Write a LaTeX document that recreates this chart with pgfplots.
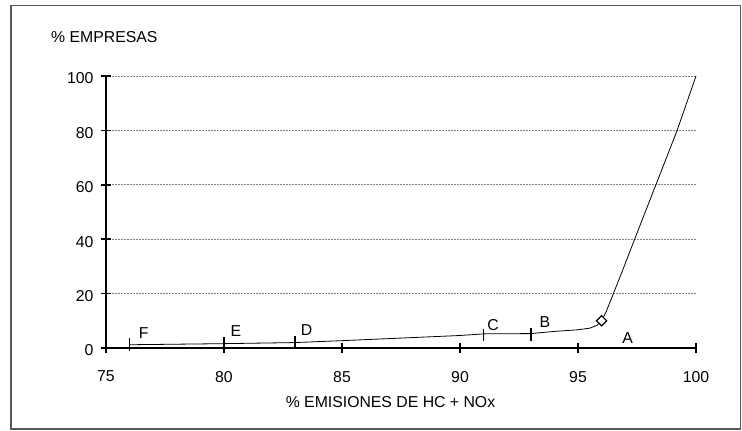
\documentclass[border=0pt]{standalone}
\usepackage{fontspec}
\setmainfont{Liberation Sans}
\usepackage{pgfplots}
\pgfplotsset{compat=1.18}
\begin{document}
\fontsize{15.8bp}{18bp}\selectfont
\begin{tikzpicture}[x=1bp,y=1bp]
\path[use as bounding box] (-106,-82) rectangle (636,348);
\draw[line width=1.5bp, black!65] (-95,-81) rectangle (634.5,342.5);
\begin{axis}[
  at={(0,0)}, anchor=south west,
  scale only axis, width=590bp, height=272bp,
  xmin=75, xmax=100, ymin=0, ymax=100,
  axis lines*=left,
  axis line style={line width=1.6bp, black},
  xtick={75,80,...,100}, ytick={0,20,...,100},
  tick align=center, major tick length=10bp,
  tick style={line width=1.6bp, black},
  ymajorgrids,
  grid style={dash pattern=on 2bp off 1bp, gray, line width=0.7bp},
  /pgf/number format/assume math mode=true,
  ticklabel style={font=\fontsize{15.8bp}{18bp}\selectfont},
  yticklabel style={xshift=-2bp, yshift=-2.5bp},
  xticklabel style={yshift=-12.5bp},
  clip=false,
]
\addplot[black, line width=0.8bp, mark=none] coordinates {
(76,1.2) (80,1.6) (83,2.0) (85,2.7) (90,4.6) (91,5.2) (93,5.3) (94,6.1) (95,6.7) (95.5,7.3) (95.8,8.3) (96,10) (96.2,13.5) (96.5,20) (97,31) (97.4,40) (98.3,60) (99.2,80) (100,100)
};
\addplot[draw=none, mark=none, error bars/.cd, y dir=both, y explicit, error mark=none,
  error bar style={line width=1.6bp, black}] coordinates {
(76,1.3) +- (0,2.4)
(80,1.6) +- (0,2.4)
(83,2.0) +- (0,2.4)
(91,4.8) +- (0,2.3)
(93,5.0) +- (0,2.4)
};
\addplot[only marks, mark=square*, mark size=3.6bp, mark options={rotate=45, fill=white, draw=black, line width=1.2bp}] coordinates {(96,10)};
\node at (axis cs:76.6,5.5) {F};
\node at (axis cs:80.5,6.2) {E};
\node at (axis cs:83.5,6.6) {D};
\node at (axis cs:91.4,8.5) {C};
\node at (axis cs:93.6,9.5) {B};
\node at (axis cs:97.1,3.7) {A};
\end{axis}
\node[anchor=base] at (284.5,-59) {\% EMISIONES DE HC + NOx};
\node[anchor=base west, inner sep=0pt] at (-55,306) {\% EMPRESAS};
\end{tikzpicture}
\end{document}
